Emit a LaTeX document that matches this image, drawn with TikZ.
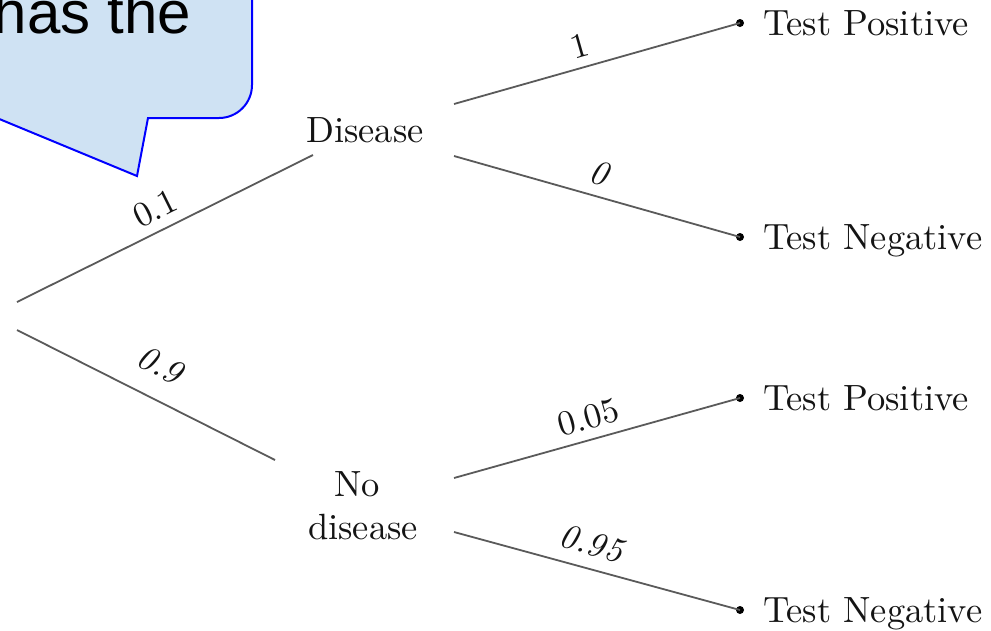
\documentclass[tikz,border=0pt]{standalone}
\usepackage{fontspec}
\setmainfont{lmroman10-regular}[Extension=.otf, ItalicFont=lmroman10-italic]
\newfontfamily\calloutfont{Liberation Sans}
\definecolor{calloutfill}{RGB}{207,226,243}
\definecolor{calloutline}{RGB}{0,0,255}
\definecolor{linegray}{RGB}{90,90,90}
\definecolor{textdark}{RGB}{20,20,20}
\begin{document}
\begin{tikzpicture}[x=1pt,y=-1pt,
  branch/.style={draw=linegray, line width=1.8pt},
  txt/.style={font=\fontsize{36.5}{43}\selectfont, text=textdark, inner sep=0pt},
  lbl/.style={font=\fontsize{35}{42}\selectfont, text=textdark, inner sep=2pt, above=7pt, sloped},
  leaf/.style={circle, fill=black, inner sep=0pt, minimum size=8pt},
  callout/.style={fill=calloutfill, draw=calloutline, line width=2pt, line join=miter}
]
\useasboundingbox (0,0) rectangle (991,630);
\clip (0,0) rectangle (991,630);

% callout
\path[callout] (-20,-20) -- (-20,111) -- (137,176) -- (148,118) -- (219,118)
  arc[start angle=90, end angle=0, radius=33] -- (252,-20) -- cycle;
\node[anchor=base east, inner sep=0pt, font=\fontsize{60}{72}\calloutfont, text=black] (callouttext) at (191,33) {has the};

% root coordinates
\coordinate (r1) at (17,302);
\coordinate (r2) at (17,330);

% second level nodes
\node[txt, anchor=base] (disease) at (365,142) {Disease};
\node[txt, align=center, anchor=center] (nodisease) at (363,506) {No\hspace*{12pt}\\disease};
\coordinate (din) at (313,155);
\coordinate (dout1) at (454,104);
\coordinate (dout2) at (454,156);
\coordinate (nin) at (275,460);
\coordinate (nout1) at (454,478);
\coordinate (nout2) at (454,532);

% leaves
\node[leaf] (tp1) at (740,23) {};
\node[leaf] (tn1) at (740,237) {};
\node[leaf] (tp2) at (740,398) {};
\node[leaf] (tn2) at (740,610) {};
\node[txt, anchor=base west] (tp1t) at (763,35) {Test Positive};
\node[txt, anchor=base west] (tn1t) at (763,249) {Test Negative};
\node[txt, anchor=base west] (tp2t) at (763,410) {Test Positive};
\node[txt, anchor=base west] (tn2t) at (763,622) {Test Negative};

% connectors
\draw[branch] (r1) -- node[lbl, pos=0.5] (l01) {0.1} (din);
\draw[branch] (r2) -- node[lbl, pos=0.5, above=11pt] (l09) {\textit{0.9}} (nin);
\draw[branch] (dout1) -- node[lbl, pos=0.46] (l1) {1} (tp1.center);
\draw[branch] (dout2) -- node[lbl, pos=0.49, above=1pt] (l0) {\textit{0}} (tn1.center);
\draw[branch] (nout1) -- node[lbl, pos=0.49] (l005) {0.05} (tp2.center);
\draw[branch] (nout2) -- node[lbl, pos=0.46, above=3pt] (l095) {\textit{0.95}} (tn2.center);
\end{tikzpicture}
\end{document}
